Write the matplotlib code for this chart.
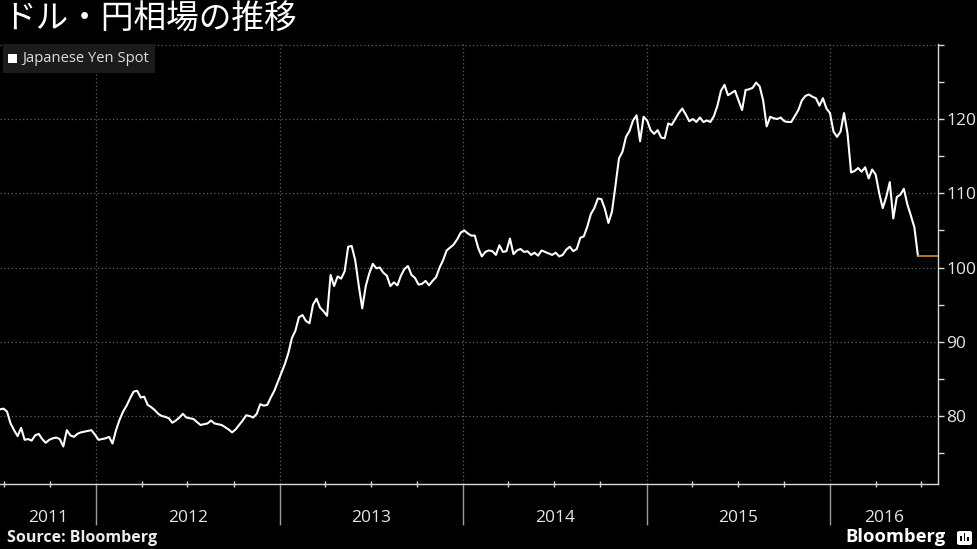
import pandas as pd
import matplotlib
matplotlib.use('Agg')
import matplotlib.pyplot as plt
import matplotlib.dates as mdates
import matplotlib.transforms as mtransforms
from matplotlib.patches import Rectangle, FancyBboxPatch

# weekly USD/JPY closes, one list per calendar year
usdjpy_2011 = [80.9, 81.0, 80.6, 79.0, 78.1, 77.3, 78.4, 76.8, 76.9, 76.7, 77.4, 77.6, 76.9,
               76.4, 76.8, 77.0, 77.1, 76.9, 75.9, 78.1, 77.4, 77.2, 77.6, 77.8, 77.9, 78.0,
               78.1, 77.5]
usdjpy_2012 = [76.8, 76.9, 77.0, 77.2, 76.3, 78.1, 79.5, 80.6, 81.4, 82.4, 83.3,
               83.4, 82.5, 82.6, 81.5, 81.2, 80.8, 80.3, 80.0, 79.9, 79.7, 79.1, 79.4, 79.8,
               80.3, 79.8, 79.7, 79.6, 79.2, 78.8, 78.9, 79.0, 79.4, 79.0, 78.9, 78.8, 78.5,
               78.2, 77.8, 78.2, 78.8, 79.4, 80.1, 80.0, 79.8, 80.3, 81.6, 81.4, 81.5, 82.5,
               83.4, 84.6]
usdjpy_2013 = [85.8, 87.0, 88.5, 90.5, 91.5, 93.3, 93.6, 92.8, 92.5, 95.0, 95.8,
               94.6, 94.1, 93.5, 99.0, 97.5, 98.8, 98.5, 99.5, 102.8, 102.9, 101.0, 97.6, 94.5,
               97.5, 99.2, 100.5, 99.9, 100.0, 99.3, 98.9, 97.5, 98.0, 97.6, 98.9, 99.8, 100.2,
               99.0, 98.6, 97.7, 97.8, 98.2, 97.6, 98.2, 98.7, 100.0, 101.0, 102.3, 102.7, 103.1,
               103.8, 104.7]
usdjpy_2014 = [105.0, 104.6, 104.3, 104.3, 102.6, 101.5, 102.1, 102.3, 102.2, 101.7, 103.0,
               102.1, 102.2, 103.9, 101.8, 102.3, 102.5, 102.1, 102.2, 101.7, 102.0, 101.6, 102.3, 102.1,
               101.9, 101.7, 102.0, 101.5, 101.7, 102.4, 102.8, 102.2, 102.5, 104.0, 104.2, 105.5, 107.2,
               108.0, 109.3, 109.2, 107.9, 106.0, 107.5, 111.0, 114.7, 115.6, 117.6, 118.4, 119.8, 120.5,
               117.0, 120.3]
usdjpy_2015 = [119.8, 118.5, 118.0, 118.5, 117.5, 117.4, 119.4, 119.2, 120.0, 120.8, 121.4,
               120.6, 119.7, 120.0, 119.6, 120.2, 119.6, 119.8, 119.6, 120.4, 121.8, 123.8, 124.6, 123.2,
               123.5, 123.8, 122.5, 121.2, 123.9, 124.0, 124.2, 124.9, 124.4, 122.5, 119.0, 120.3, 120.1,
               120.0, 120.2, 119.7, 119.6, 119.6, 120.4, 121.2, 122.5, 123.1, 123.3, 123.0, 122.8, 121.8,
               122.8, 121.4]
usdjpy_2016 = [120.8, 118.3, 117.6, 118.3, 120.8, 118.0, 112.8, 113.0, 113.4, 112.9, 113.5,
               112.0, 113.2, 112.5, 110.0, 108.0, 109.5, 111.5, 106.6, 109.5, 109.8, 110.6, 108.5, 107.0,
               105.4, 101.6]

start_date = '2011-06-24'
end_date = '2016-08-03'
year_starts = ['2012-01-01', '2013-01-01', '2014-01-01', '2015-01-01', '2016-01-01']
year_labels = ['2011', '2012', '2013', '2014', '2015', '2016']
y_ticks = [80, 90, 100, 110, 120, 130]
y_labels = ['80', '90', '100', '110', '120', '']

values = usdjpy_2011 + usdjpy_2012 + usdjpy_2013 + usdjpy_2014 + usdjpy_2015 + usdjpy_2016
dates = pd.date_range(start_date, periods=len(values), freq='7D')

plt.rcParams['font.family'] = ['Open Sans', 'DejaVu Sans']

W, H = 977, 549
fig = plt.figure(figsize=(W / 100, H / 100), dpi=100, facecolor='black')
ax = fig.add_axes([0, 65 / H, 938 / W, 440 / H])
ax.set_facecolor('black')

ax.plot(dates, values, color='white', lw=1.5, solid_joinstyle='round')
# flat orange extension of the last value
ax.plot([dates[-1], pd.Timestamp(end_date)], [values[-1], values[-1]],
        color='#d98a2b', lw=1.2)

ax.set_xlim(pd.Timestamp(start_date), pd.Timestamp(end_date))
ax.set_ylim(70.85, 130.1)

for s in ['left', 'top']:
    ax.spines[s].set_visible(False)
for s in ['bottom', 'right']:
    ax.spines[s].set_color('#d8d8d8')
    ax.spines[s].set_linewidth(1.0)

# y axis on the right
ax.yaxis.tick_right()
ax.set_yticks(y_ticks)
ax.set_yticklabels(y_labels)
ax.set_yticks([75, 85, 95, 105, 115, 125], minor=True)
ax.tick_params(axis='y', which='both', colors='#d8d8d8', direction='out',
               length=4, width=1, labelsize=12.5, pad=2, labelcolor='#e6e6e6')

# x axis: long separator ticks at year starts, small quarter ticks
ax.set_xticks([pd.Timestamp(d) for d in year_starts])
ax.set_xticklabels([])
ax.xaxis.set_minor_locator(mdates.MonthLocator(bymonth=[1, 4, 7, 10]))
ax.tick_params(axis='x', which='major', direction='out', length=29.5,
               width=1, colors='#9a9a9a')
ax.tick_params(axis='x', which='minor', direction='inout', length=5,
               width=1, colors='#d8d8d8')

ax.grid(True, which='major', color='#5e5e5e', linestyle=(0, (1, 2)), lw=0.9)

# year labels centred in each span
edges = [pd.Timestamp(start_date)] + [pd.Timestamp(d) for d in year_starts] + [pd.Timestamp(end_date)]
trans = mtransforms.blended_transform_factory(ax.transData, ax.transAxes)
for i, lab in enumerate(year_labels):
    mid = mdates.date2num(edges[i]) + (mdates.date2num(edges[i + 1]) - mdates.date2num(edges[i])) / 2
    ax.text(mid, -0.077, lab, transform=trans, ha='center', va='center',
            color='#e6e6e6', fontsize=12.5, clip_on=False)

# title
fig.text(3 / W, 1 - 20 / H, 'ドル・円相場の推移', color='white', fontsize=23.5,
         family=['Noto Sans CJK JP', 'DejaVu Sans'], va='center', ha='left')

# legend box
fig.add_artist(Rectangle((3 / W, 1 - 73 / H), 152 / W, 29 / H, transform=fig.transFigure,
                         facecolor='#1b1b1b', edgecolor='none'))
fig.add_artist(Rectangle((8 / W, 1 - 63 / H), 9 / W, 9 / H, transform=fig.transFigure,
                         facecolor='white', edgecolor='none'))
fig.text(22 / W, 1 - 58.5 / H, 'Japanese Yen Spot', color='#e0e0e0', fontsize=10.6,
         va='center', ha='left')

# footer
fig.text(7 / W, 1 - 538 / H, 'Source: Bloomberg', color='#ececec', fontsize=11.5,
         fontweight='bold', va='center', ha='left')
fig.text(946 / W, 1 - 537 / H, 'Bloomberg', color='white', fontsize=13.2,
         fontweight='bold', va='center', ha='right')
fig.add_artist(FancyBboxPatch((957 / W, 1 - 545 / H), 15 / W, 14 / H,
                              boxstyle='round,pad=0,rounding_size=0.003',
                              transform=fig.transFigure, facecolor='white', edgecolor='none'))
for j, hgt in enumerate([5, 8, 4]):
    fig.add_artist(Rectangle(((960 + j * 3.5) / W, 1 - 541 / H), 1.6 / W, hgt / H,
                             transform=fig.transFigure, facecolor='black', edgecolor='none'))

fig.savefig('out.png', dpi=100, facecolor='black')
